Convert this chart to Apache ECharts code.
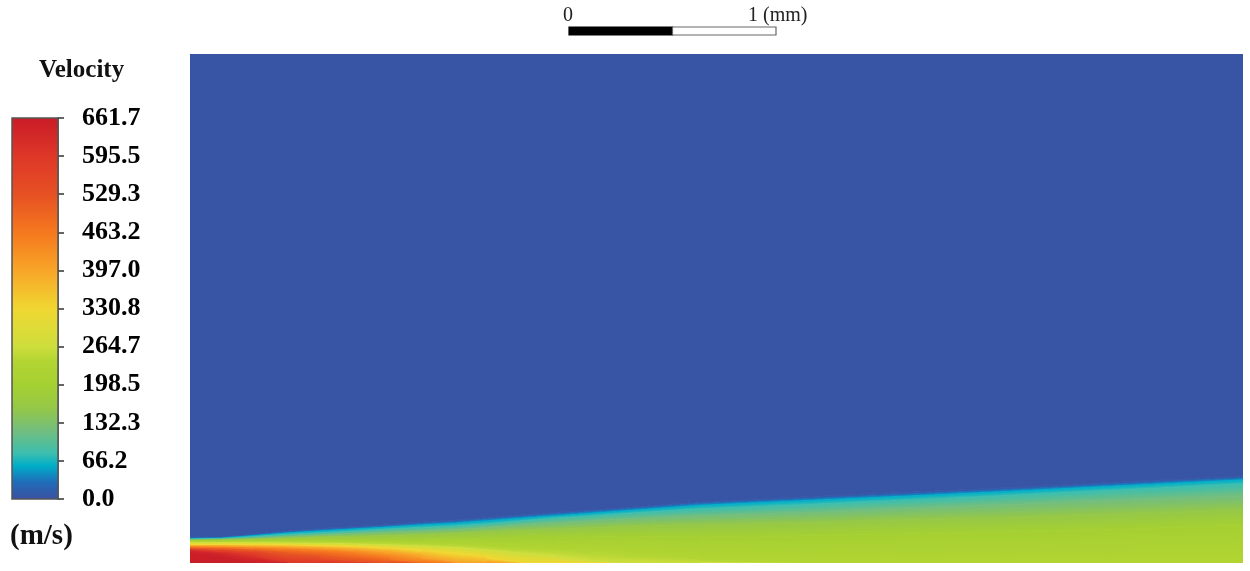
<!DOCTYPE html>
<html>
<head>
<meta charset="utf-8">
<style>html,body{margin:0;padding:0;background:#fff}#c{width:1250px;height:571px}</style>
<script src="https://cdn.jsdelivr.net/npm/echarts@6/dist/echarts.min.js"></script>
</head>
<body>
<div id="c"></div>
<script>
// All lengths of the velocity field are in read units: 207 units = 1 mm (the scale bar).
const stations = [0,32,65,97,130,165,200,232,265,297,330,365,400,435,510,610,710,810,910,1053];
const fieldLength = 1053;
const fieldHeight = 509;
// iso-velocity lines: height above the wall at each station
const iso5   = [25.5,26,29,32,34.5,36.5,38.5,41,43,45.5,48,50.5,53,55.5,61,66,70.4,75,80,87];
const iso30  = [25,25.5,28.2,31,33.2,35.2,37.2,39.5,41.5,44,46.5,49,51.5,54,59.5,64,68.4,73,78,85];
const iso59  = [24.5,25,27.5,30,32,34,36,38,39.5,42,44.5,47,49.5,52,57.5,62,66.4,71,76,83];
const iso80  = [24,24.5,26.5,28.5,30,32,34,35.5,37,39,42,45,47,49.5,54,58,62.5,67,72,79];
const iso120 = [23.5,24,25,26.5,28,29.5,31,32,33.5,35.5,38,40,42,44,47,50,54,58,62,67];
const iso160 = [23,23.5,24,25,26,26.5,27.5,28.5,29.5,31,32.5,33.5,35,36.5,38,40,43,45,48,53];
const iso198 = [22.5,22.5,23,23,23,23,23,23,23.5,24,25,25,26,26.5,26,27,29,31,33,38];
const iso240 = [21.5,21.5,21.5,21,21,20.5,20,19,18,16,14,13,11,9,3,0,0,0,0,0];
const iso264 = [20.5,20.5,20.5,20,19.5,19,18,17,15.5,13,10,7,2,0,0,0,0,0,0,0];
const iso330 = [18.5,18.5,18.5,18,17.5,16.5,15,12.5,10,6,0,0,0,0,0,0,0,0,0,0];
const iso397 = [17,17,16.5,16,15,13.5,11,7,0.5,0,0,0,0,0,0,0,0,0,0,0];
const iso463 = [16,15.5,14.5,13.5,12,9.5,4.5,0,0,0,0,0,0,0,0,0,0,0,0,0];
const iso529 = [14.5,13.5,12,9,6,1.5,0,0,0,0,0,0,0,0,0,0,0,0,0,0];
const iso595 = [13.5,11.5,8.5,0.5,0,0,0,0,0,0,0,0,0,0,0,0,0,0,0,0];
const iso650 = [11.5,8,1,0,0,0,0,0,0,0,0,0,0,0,0,0,0,0,0,0];
const isoTop = stations.map(() => fieldHeight);
const isoWall = stations.map(() => 0);
const isolines = [isoTop, iso5, iso30, iso59, iso80, iso120, iso160, iso198, iso240, iso264, iso330, iso397, iso463, iso529, iso595, iso650, isoWall];
const levels = [0, 5, 30, 59, 80, 120, 160, 198, 240, 264, 330, 397, 463, 529, 595, 650, 661.7];
const levelColors = ['#3854a4','#3854a4','#1f6cb8','#00aec8','#3cbeaf','#73be7d','#96c846','#a5d032','#b2d532','#cdde3c','#f0d732','#f8a528','#f5781e','#e65023','#de3728','#cd2028','#c81e28'];
// colour bar
const legendTicks = [0, 66.2, 132.3, 198.5, 264.7, 330.8, 397.0, 463.2, 529.3, 595.5, 661.7];
const legendTitle = 'Velocity';
const legendUnit = '(m/s)';
// scale bar
const scaleSegments = [[0, 0.5], [0.5, 1]];
const scaleLabels = ['0', '1 (mm)'];

const serif = '"Liberation Serif", "Times New Roman", serif';
const quads = [];
for (let b = 0; b < isolines.length - 1; b++) {
  for (let i = 0; i < stations.length - 1; i++) {
    quads.push([stations[i], stations[i + 1], isolines[b + 1][i], isolines[b + 1][i + 1], isolines[b][i], isolines[b][i + 1], b]);
  }
}
const chart = echarts.init(document.getElementById('c'), null, {renderer: 'canvas'});
chart.setOption({
  animation: false,
  backgroundColor: '#fff',
  grid: [
    {left: 190, top: 54, width: 1053, height: 509},
    {left: 12, top: 118, width: 46, height: 381},
    {left: 569, top: 27, width: 207, height: 8}
  ],
  xAxis: [
    {gridIndex: 0, type: 'value', min: 0, max: fieldLength, show: false},
    {gridIndex: 1, type: 'value', min: 0, max: 1, show: false},
    {gridIndex: 2, type: 'value', min: 0, max: 1, show: false}
  ],
  yAxis: [
    {gridIndex: 0, type: 'value', min: 0, max: fieldHeight, show: false},
    {gridIndex: 1, type: 'value', position: 'right', min: 0, max: 661.7, splitLine: {show: false},
      axisLine: {show: true, onZero: false, lineStyle: {color: '#444', width: 1.5}},
      axisTick: {show: true, length: 6, customValues: legendTicks, lineStyle: {color: '#333', width: 1.5}},
      axisLabel: {show: true, margin: 24, customValues: legendTicks, formatter: v => v.toFixed(1),
        fontFamily: serif, fontWeight: 'bold', fontSize: 26, color: '#000'}},
    {gridIndex: 2, type: 'value', min: 0, max: 1, show: false}
  ],
  series: [
    {
      type: 'custom', coordinateSystem: 'cartesian2d', xAxisIndex: 0, yAxisIndex: 0, clip: true, silent: true,
      data: quads,
      renderItem(params, api) {
        const x0 = api.value(0), x1 = api.value(1);
        const lo0 = api.coord([x0, api.value(2)]), lo1 = api.coord([x1, api.value(3)]);
        const up0 = api.coord([x0, api.value(4)]), up1 = api.coord([x1, api.value(5)]);
        const b = api.value(6);
        if (lo0[1] - up0[1] < 0.01 && lo1[1] - up1[1] < 0.01) return null;
        const dx = lo1[0] - lo0[0];
        const s = (up1[1] + lo1[1] - up0[1] - lo0[1]) / (2 * dx);
        const mx = (lo0[0] + lo1[0]) / 2, uy = (up0[1] + up1[1]) / 2, ly = (lo0[1] + lo1[1]) / 2;
        const c2 = 1 / (1 + s * s);
        const h = Math.max(ly - uy, 0.05);
        const grad = new echarts.graphic.LinearGradient(mx, uy, mx - s * h * c2, uy + h * c2,
          [{offset: 0, color: levelColors[b]}, {offset: 1, color: levelColors[b + 1]}], true);
        return {
          type: 'polygon',
          shape: {points: [up0, up1, lo1, lo0]},
          style: {fill: grad, stroke: grad, lineWidth: 0.8}
        };
      }
    },
    {
      type: 'custom', coordinateSystem: 'cartesian2d', xAxisIndex: 1, yAxisIndex: 1, silent: true,
      data: [[0, 1, 0, 661.7]],
      renderItem(params, api) {
        const a = api.coord([api.value(0), api.value(3)]), c = api.coord([api.value(1), api.value(2)]);
        const stops = levels.map((v, i) => ({offset: 1 - v / 661.7, color: levelColors[i]})).reverse();
        return {type: 'rect', shape: {x: a[0], y: a[1], width: c[0] - a[0], height: c[1] - a[1]},
          style: {fill: new echarts.graphic.LinearGradient(0, 0, 0, 1, stops), stroke: '#555', lineWidth: 1.5}};
      }
    },
    {
      type: 'custom', coordinateSystem: 'cartesian2d', xAxisIndex: 2, yAxisIndex: 2, silent: true,
      data: scaleSegments.map((s, i) => [s[0], s[1], i]),
      renderItem(params, api) {
        const a = api.coord([api.value(0), 1]), c = api.coord([api.value(1), 0]);
        const black = api.value(2) === 0;
        return {type: 'rect', shape: {x: a[0], y: a[1], width: c[0] - a[0], height: c[1] - a[1]},
          style: {fill: black ? '#000' : '#fff', stroke: black ? '#000' : '#666', lineWidth: 1.2}};
      }
    }
  ],
  graphic: [
    {type: 'text', left: 39, top: 58, style: {text: legendTitle, font: 'bold 25px ' + serif, fill: '#111'}},
    {type: 'text', left: 10, top: 522, style: {text: legendUnit, font: 'bold 29px ' + serif, fill: '#111'}},
    {type: 'text', left: 563, top: 6, style: {text: scaleLabels[0], font: '20px ' + serif, fill: '#222'}},
    {type: 'text', left: 748, top: 6, style: {text: scaleLabels[1], font: '20px ' + serif, fill: '#222'}}
  ]
});
</script>
</body>
</html>
